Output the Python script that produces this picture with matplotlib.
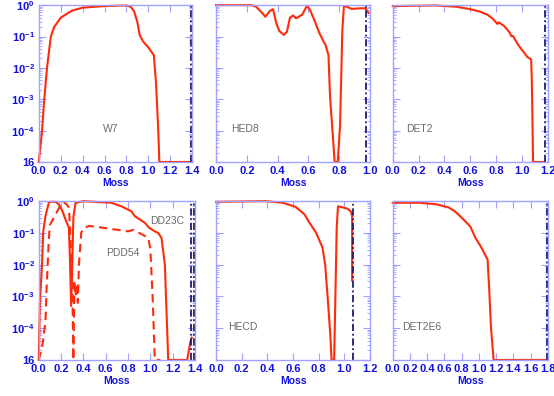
import numpy as np
import matplotlib
matplotlib.use('Agg')
import matplotlib.pyplot as plt

plt.rcParams['font.family'] = ['Liberation Sans', 'DejaVu Sans']
plt.rcParams['mathtext.fontset'] = 'custom'
plt.rcParams['mathtext.bf'] = 'Liberation Sans:bold'
plt.rcParams['mathtext.rm'] = 'Liberation Sans'

# mass coordinate and abundance (log10)
w7_x = [0.0, 0.03, 0.05, 0.075, 0.11, 0.14, 0.2, 0.3, 0.4, 0.6, 0.8, 0.84, 0.87, 0.9, 0.92, 0.95, 1.0, 1.05, 1.07, 1.09, 1.1, 1.4]
w7_y = [-5.0, -4.0, -3.0, -2.0, -1.0, -0.7, -0.4, -0.18, -0.08, -0.03, -0.01, -0.05, -0.2, -0.55, -0.95, -1.15, -1.35, -1.6, -2.5, -4.0, -5.0, -5.0]

hed8_x = [0.0, 0.23, 0.26, 0.3, 0.32, 0.35, 0.37, 0.39, 0.41, 0.44, 0.46, 0.48, 0.5, 0.52, 0.56, 0.59, 0.61, 0.64, 0.67, 0.70, 0.71, 0.73, 0.74, 0.77, 0.79, 0.805, 0.82, 0.83, 0.85, 0.88, 0.94, 0.97, 0.99]
hed8_y = [0.0, 0.0, -0.05, -0.25, -0.37, -0.18, -0.13, -0.55, -0.82, -0.95, -0.85, -0.4, -0.33, -0.42, -0.3, -0.02, -0.15, -0.5, -0.88, -1.18, -1.25, -1.6, -2.9, -5.0, -5.0, -3.85, -0.8, -0.03, -0.05, -0.12, -0.1, -0.1, -0.25]

det2_x = [0.0, 0.33, 0.49, 0.59, 0.67, 0.73, 0.77, 0.81, 0.82, 0.86, 0.90, 0.92, 0.93, 0.96, 0.99, 1.01, 1.04, 1.07, 1.075, 1.08, 1.085, 1.17]
det2_y = [-0.03, -0.01, -0.05, -0.12, -0.2, -0.3, -0.42, -0.6, -0.55, -0.66, -0.85, -1.0, -0.98, -1.2, -1.38, -1.48, -1.65, -1.73, -2.3, -3.5, -5.0, -5.0]

dd23c_x = [0.0, 0.01, 0.03, 0.04, 0.06, 0.09, 0.1, 0.15, 0.18, 0.21, 0.24, 0.27, 0.28, 0.29, 0.30, 0.31, 0.33, 0.4, 0.65, 0.74, 0.83, 0.86, 0.95, 0.99, 1.04, 1.07, 1.1, 1.13, 1.16, 1.33, 1.36, 1.37]
dd23c_y = [-5.0, -3.2, -1.9, -0.95, -0.47, -0.05, -0.02, -0.02, -0.1, -0.3, -0.58, -0.84, -1.9, -3.3, -2.0, -0.5, -0.05, 0.0, -0.05, -0.16, -0.32, -0.47, -0.68, -0.84, -0.95, -1.0, -1.16, -2.0, -5.0, -5.0, -4.4, -4.3]

pdd54_x = [0.0, 0.03, 0.06, 0.07, 0.09, 0.1, 0.15, 0.19, 0.22, 0.25, 0.27, 0.28, 0.30, 0.31, 0.32, 0.33, 0.34, 0.35, 0.36, 0.38, 0.40, 0.45, 0.5, 0.6, 0.7, 0.8, 0.85, 0.9, 0.98, 1.0, 1.02, 1.04, 1.09]
pdd54_y = [-5.0, -4.6, -3.8, -2.75, -1.2, -0.75, -0.42, -0.16, -0.02, -0.1, -0.2, -0.84, -2.4, -5.0, -2.5, -3.0, -2.6, -3.2, -2.0, -1.0, -0.85, -0.78, -0.8, -0.85, -0.9, -0.95, -0.9, -1.0, -1.15, -1.5, -3.0, -5.0, -5.0]

hecd_x = [0.0, 0.39, 0.52, 0.62, 0.69, 0.72, 0.78, 0.83, 0.85, 0.87, 0.89, 0.90, 0.92, 0.93, 0.94, 0.95, 0.98, 1.02, 1.05, 1.06, 1.06]
hecd_y = [-0.02, 0.0, -0.05, -0.18, -0.42, -0.63, -1.0, -1.47, -2.0, -3.05, -4.2, -5.0, -5.0, -2.95, -0.84, -0.16, -0.19, -0.23, -0.32, -0.47, -2.5]

det2e6_x = [0.0, 0.31, 0.51, 0.65, 0.72, 0.78, 0.84, 0.90, 0.96, 1.02, 1.08, 1.10, 1.12, 1.14, 1.17, 1.8]
det2e6_y = [-0.05, -0.05, -0.1, -0.2, -0.32, -0.47, -0.63, -0.8, -1.16, -1.42, -1.73, -1.84, -2.84, -4.0, -5.0, -5.0]

panels = [
    # name, xmax, curves, vlines, label position
    ('W7', 1.4, [(w7_x, w7_y, '-')], [1.385], (0.42, 0.19)),
    ('HED8', 1.0, [(hed8_x, hed8_y, '-')], [0.975], (0.10, 0.19)),
    ('DET2', 1.2, [(det2_x, det2_y, '-')], [1.175], (0.083, 0.19)),
    ('DD23C', 1.4, [(dd23c_x, dd23c_y, '-'), (pdd54_x, pdd54_y, '--')], [1.365, 1.39], None),
    ('HECD', 1.2, [(hecd_x, hecd_y, '-')], [1.064], (0.078, 0.19)),
    ('DET2E6', 1.8, [(det2e6_x, det2e6_y, '-')], [1.79], (0.058, 0.19)),
]

red = '#ff2a0a'
blue = '#1010e0'
frame = '#a0a0ff'
gray = '#6a6a6a'

fig = plt.figure(figsize=(5.54, 3.96), dpi=100)
lefts = [0.070, 0.390, 0.709]
widths = [0.277, 0.278, 0.280]
bottoms = [0.591, 0.091]
heights = [0.396, 0.401]

for i, (name, xmax, curves, vl, lpos) in enumerate(panels):
    r, c = divmod(i, 3)
    w = widths[c] + (0.005 if (r == 1 and c == 0) else 0)
    ax = fig.add_axes([lefts[c], bottoms[r], w, heights[r]])
    for xs, ys, ls in curves:
        ax.plot(xs, 10.0 ** np.array(ys), color=red, lw=1.5, ls=ls, clip_on=False,
                dashes=(4, 2.5) if ls == '--' else (None, None))
    for v in vl:
        ax.axvline(v, color='#1c1c70', lw=1.3, dashes=(4, 1.5, 1, 1.5))
    ax.set_yscale('log')
    ax.set_ylim(1e-5, 1)
    ax.set_xlim(0, xmax)
    ticks = np.arange(0, xmax + 0.01, 0.2)
    ax.set_xticks(ticks)
    ax.set_xticklabels(['%.1f' % t for t in ticks])
    ax.set_yticks([1e-5, 1e-4, 1e-3, 1e-2, 1e-1, 1])
    if c == 0:
        ax.set_yticklabels(['16', r'$\mathbf{10^{-4}}$', r'$\mathbf{10^{-3}}$',
                            r'$\mathbf{10^{-2}}$', r'$\mathbf{10^{-1}}$', r'$\mathbf{10^{0}}$'])
    else:
        ax.set_yticklabels([])
    for s in ax.spines.values():
        s.set_color(frame)
        s.set_linewidth(1.0)
    ax.tick_params(which='both', direction='in', top=True, right=True, color=frame,
                   labelcolor=blue, labelsize=8, pad=3)
    ax.tick_params(which='major', length=5)
    ax.tick_params(which='minor', length=2.5)
    for t in ax.get_xticklabels() + ax.get_yticklabels():
        t.set_fontweight('bold')
    ax.set_xlabel('Moss', color=blue, fontsize=7.5, fontweight='bold', labelpad=1)
    if name == 'DD23C':
        ax.text(0.71, 0.855, 'DD23C', transform=ax.transAxes, color=gray, fontsize=7.5)
        ax.text(0.43, 0.655, 'PDD54', transform=ax.transAxes, color=gray, fontsize=7.5)
    else:
        ax.text(lpos[0], lpos[1], name, transform=ax.transAxes, color=gray, fontsize=7.5)

fig.savefig('out.png', dpi=100)
